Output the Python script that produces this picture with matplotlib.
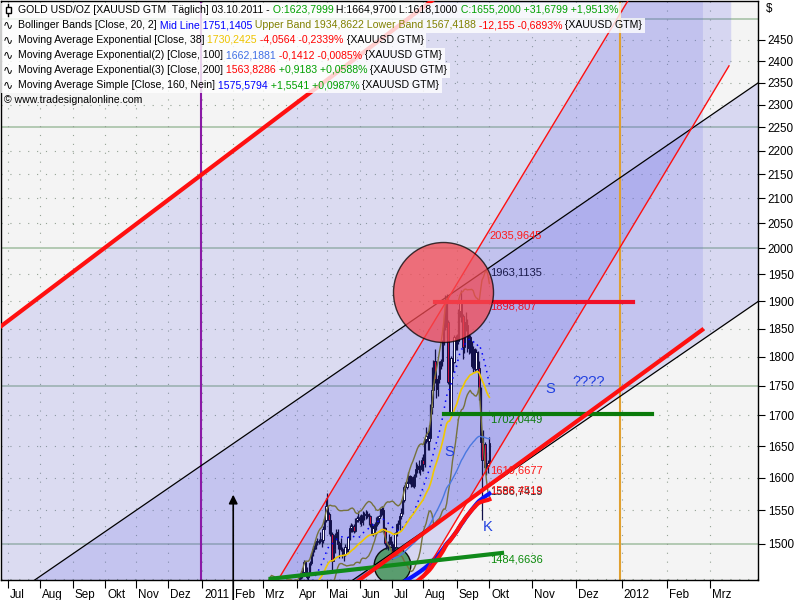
import numpy as np
import pandas as pd
import matplotlib
matplotlib.use('Agg')
import matplotlib.pyplot as plt
from matplotlib.transforms import IdentityTransform, ScaledTranslation
from matplotlib.patches import Polygon, Rectangle
from matplotlib.ticker import FixedLocator, NullLocator, FixedFormatter

plt.rcParams['font.family'] = ['Liberation Sans', 'DejaVu Sans']
FS = 7.6

# ---------------- price data (XAUUSD daily closes, Jul 2010 - Oct 3 2011) ----------------
close_2010_07 = [1207, 1209, 1208, 1195, 1195, 1207, 1210, 1199, 1214, 1208, 1208, 1189, 1181, 1192, 1193, 1193, 1189, 1183, 1160, 1160, 1167, 1181]
close_2010_08 = [1184, 1185, 1194, 1196, 1204, 1200, 1197, 1199, 1213, 1215, 1225, 1226, 1230, 1233, 1227, 1226, 1233, 1240, 1238, 1235, 1238, 1247]
close_2010_09 = [1250, 1248, 1247, 1250, 1255, 1257, 1243, 1246, 1245, 1269, 1268, 1275, 1275, 1279, 1274, 1291, 1293, 1297, 1296, 1309, 1308, 1307]
close_2010_10 = [1319, 1315, 1340, 1349, 1333, 1346, 1353, 1349, 1372, 1381, 1368, 1371, 1335, 1345, 1325, 1327, 1339, 1339, 1325, 1345, 1357]
close_2010_11 = [1351, 1357, 1337, 1383, 1395, 1403, 1393, 1399, 1408, 1367, 1367, 1338, 1353, 1356, 1353, 1359, 1379, 1375, 1373, 1363, 1366, 1386]
close_2010_12 = [1388, 1390, 1406, 1414, 1400, 1383, 1392, 1385, 1400, 1403, 1391, 1375, 1379, 1384, 1388, 1387, 1380, 1380, 1383, 1405, 1414, 1405, 1421]
close_2011_01 = [1422, 1378, 1375, 1372, 1369, 1376, 1384, 1386, 1371, 1360, 1365, 1368, 1369, 1344, 1343, 1343, 1333, 1342, 1318, 1340, 1333]
close_2011_02 = [1340, 1332, 1353, 1348, 1350, 1362, 1365, 1364, 1362, 1360, 1374, 1375, 1385, 1388, 1403, 1397, 1409, 1413, 1404, 1411]
close_2011_03 = [1434, 1437, 1416, 1429, 1434, 1433, 1435, 1411, 1421, 1424, 1395, 1396, 1403, 1418, 1427, 1427, 1437, 1438, 1429, 1418, 1417, 1425, 1439]
close_2011_04 = [1429, 1437, 1454, 1458, 1459, 1474, 1465, 1453, 1457, 1473, 1486, 1492, 1496, 1503, 1504, 1504, 1506, 1506, 1522, 1535, 1556]
close_2011_05 = [1545, 1535, 1515, 1475, 1492, 1513, 1517, 1500, 1502, 1492, 1491, 1486, 1496, 1493, 1510, 1524, 1526, 1526, 1519, 1536, 1538, 1536]
close_2011_06 = [1540, 1533, 1543, 1543, 1545, 1543, 1541, 1530, 1516, 1524, 1530, 1530, 1538, 1541, 1552, 1550, 1523, 1501, 1497, 1501, 1510, 1500]
close_2011_07 = [1486, 1496, 1516, 1529, 1530, 1541, 1546, 1566, 1586, 1585, 1592, 1602, 1601, 1599, 1587, 1602, 1614, 1618, 1614, 1614, 1628]
close_2011_08 = [1622, 1661, 1667, 1658, 1663, 1714, 1742, 1793, 1762, 1744, 1761, 1786, 1792, 1823, 1852, 1895, 1862, 1757, 1705, 1798, 1791, 1835, 1826]
close_2011_09 = [1828, 1881, 1896, 1873, 1817, 1862, 1857, 1815, 1835, 1826, 1783, 1813, 1778, 1808, 1781, 1740, 1656, 1628, 1654, 1617, 1620, 1623.8]
close_2011_10 = [1655.2]

# highs / lows of the visible candles (Apr 1 2011 - Oct 3 2011)
high_bars = [1440, 1439, 1456, 1461, 1465, 1477, 1476, 1467, 1460, 1475, 1487, 1497, 1498, 1505, 1509, 1507, 1518, 1511, 1526, 1537, 1569,
             1577, 1548, 1545, 1518, 1508, 1516, 1522, 1522, 1504, 1509, 1496, 1496, 1500, 1502, 1512, 1528, 1531, 1530, 1530, 1538, 1541, 1549,
             1543, 1544, 1549, 1548, 1550, 1549, 1546, 1543, 1531, 1528, 1532, 1540, 1542, 1543, 1554, 1556, 1555, 1525, 1505, 1504, 1514, 1512,
             1505, 1498, 1518, 1531, 1535, 1544, 1554, 1572, 1588, 1594, 1595, 1609, 1604, 1602, 1602, 1605, 1625, 1622, 1627, 1620, 1632,
             1638, 1663, 1681, 1672, 1684, 1719, 1782, 1795, 1814, 1764, 1768, 1793, 1796, 1830, 1877, 1911, 1913, 1865, 1772, 1801, 1812, 1839, 1838,
             1840, 1885, 1900, 1921, 1876, 1869, 1880, 1868, 1841, 1838, 1828, 1818, 1816, 1813, 1810, 1792, 1748, 1669, 1676, 1657, 1640, 1628,
             1664.97]
low_bars = [1418, 1425, 1432, 1450, 1451, 1456, 1462, 1450, 1448, 1455, 1470, 1483, 1489, 1492, 1499, 1500, 1501, 1496, 1502, 1520, 1533,
            1535, 1515, 1511, 1462, 1478, 1487, 1506, 1492, 1480, 1490, 1479, 1476, 1482, 1489, 1488, 1506, 1517, 1517, 1516, 1518, 1533, 1532,
            1530, 1526, 1528, 1536, 1537, 1538, 1528, 1525, 1513, 1512, 1515, 1521, 1526, 1531, 1538, 1543, 1518, 1498, 1492, 1491, 1498, 1497,
            1478, 1482, 1493, 1512, 1520, 1520, 1537, 1544, 1562, 1578, 1583, 1590, 1590, 1585, 1585, 1584, 1601, 1608, 1608, 1604, 1610,
            1610, 1616, 1655, 1644, 1643, 1667, 1702, 1728, 1755, 1729, 1732, 1755, 1779, 1784, 1821, 1848, 1833, 1752, 1702, 1704, 1774, 1789, 1812,
            1812, 1823, 1871, 1861, 1796, 1807, 1846, 1808, 1804, 1807, 1781, 1773, 1773, 1776, 1770, 1726, 1632, 1535, 1627, 1607, 1604, 1608,
            1618.1]

# drawing-tool anchors: (bar index, price)
chan_upper = [(327, 1963.11), (509.5, 2349.6)]        # black channel, upper line
chan_lower_value = (327, 1586.74)                      # black channel, lower line (parallel)
fan_left = [(183.4, 1448.3), (327, 2035.96)]           # thin red line, left
fan_right = [(327, 1619.67), (489.8, 2389.0)]          # thin red line, right
fan_right_end = 491.3
top_red = [(-5.43, 1852.8), (216.7, 2356.5)]           # thick red line upper left
low_red = [(327, 1588.45), (471.5, 1847.4)]            # thick red support line
low_red_start = 236.0
green_trend = [(183.4, 1451.2), (335.6, 1486.9)]
hline_red = (290.1, 424.6, 1898.807)
hline_green = (296.4, 437.3, 1702.0449)
purple_x, orange_x, arrow_x, arrow_top = 131, 416, 153, 1578
red_circle = (295.5, 1917.0)
green_circle = (260.7, 1469.6)
notes = [(368.2, 1744.3, 'S'), (394.7, 1755.4, '????'), (299.6, 1641.0, 'S'), (325.8, 1525.5, 'K')]
value_labels = [(2035.96, '2035,9645', '#ff1a1a'), (1963.11, '1963,1135', '#1a1a4a'),
                (1898.807, '1898,807', '#e8102a'), (1702.0449, '1702,0449', '#0a7a0a'),
                (1619.67, '1619,6677', '#ff1a1a'), (1586.74, '1586,7419', '#202020'),
                (1588.45, '1588,4519', '#ff1a1a'), (1484.66, '1484,6636', '#0a8a0a')]
y_ticks = list(range(1500, 2451, 50))
months_de = ['Jan', 'Feb', 'Mrz', 'Apr', 'Mai', 'Jun', 'Jul', 'Aug', 'Sep', 'Okt', 'Nov', 'Dez']

closes = np.array(close_2010_07 + close_2010_08 + close_2010_09 + close_2010_10 + close_2010_11 +
                  close_2010_12 + close_2011_01 + close_2011_02 + close_2011_03 + close_2011_04 +
                  close_2011_05 + close_2011_06 + close_2011_07 + close_2011_08 + close_2011_09 +
                  close_2011_10, dtype=float)
past_dates = pd.bdate_range('2010-07-01', '2011-10-03')[:len(closes)]
future_dates = pd.date_range('2011-10-04', '2012-03-31')
all_dates = past_dates.append(future_dates)
N = len(closes)
xs = np.arange(N)

# ---------------- indicators ----------------
def ema(v, n):
    a = 2.0 / (n + 1)
    out = np.empty_like(v)
    out[0] = v[0]
    for i in range(1, len(v)):
        out[i] = out[i - 1] + a * (v[i] - out[i - 1])
    return out

s = pd.Series(closes)
bb_mid = s.rolling(20).mean().values
bb_std = s.rolling(20).std(ddof=0).values
bb_up = bb_mid + 2 * bb_std
bb_lo = bb_mid - 2 * bb_std
ema38 = ema(closes, 38)
ema100 = ema(closes, 100)
ema200 = ema(closes, 200)
sma160 = s.rolling(160).mean().values

# ---------------- figure ----------------
W, H = 800, 600
fig = plt.figure(figsize=(8, 6), dpi=100)
fig.patch.set_facecolor('white')
ax = fig.add_axes([1 / W, 20 / H, 757 / W, 579 / H])
ax.set_facecolor('#f4f4f4')
ax.set_yscale('log')
ax.set_xlim(-4.76, 509.5)
ax.set_ylim(1448.3, 2544.7)
X0, X1 = -20, 530


def line_fn(a, b):
    (x0, p0), (x1, p1) = a, b
    k = np.log(p1 / p0) / (x1 - x0)
    f = lambda x: p0 * np.exp(k * (np.asarray(x, dtype=float) - x0))
    finv = lambda p: x0 + np.log(np.asarray(p, dtype=float) / p0) / k
    return f, finv, k

L1, _, kL = line_fn(*chan_upper)
L2 = lambda x: chan_lower_value[1] * np.exp(kL * (np.asarray(x, dtype=float) - chan_lower_value[0]))
R1, R1inv, _ = line_fn(*fan_left)
R2, R2inv, _ = line_fn(*fan_right)
TR, _, _ = line_fn(*top_red)
BR, _, _ = line_fn(*low_red)
GT, _, _ = line_fn(*green_trend)

# grid
for yv in range(1450, 2551, 50):
    if yv % 250 == 0:
        ax.axhline(yv, color='#a8c2a8', lw=1.2, zorder=0.6)
    else:
        ax.axhline(yv, color='#94a294', lw=0.8, ls=(0, (1, 7)), zorder=0.6)

tick_pos, tick_lab = [], []
prev = None
for i, d in enumerate(all_dates):
    key = (d.year, d.month)
    if key != prev:
        tick_pos.append(i)
        tick_lab.append(str(d.year) if d.month == 1 else months_de[d.month - 1])
        prev = key
for tp in tick_pos:
    ax.axvline(tp, color='#94a294', lw=0.8, ls=(0, (1, 7)), zorder=0.6)

# shaded channels
lav = '#5e5ee6'
xw = np.array([X0, 472.1])
ax.fill_between(xw, BR(xw), TR(xw), color=lav, alpha=0.16, lw=0, zorder=1)
xl = np.array([X0, X1])
ax.fill_between(xl, L2(xl), L1(xl), color=lav, alpha=0.18, lw=0, zorder=1)
plo, phi = 1300.0, 2900.0
rverts = [(R1inv(plo), plo), (R1inv(phi), phi), (fan_right_end, phi),
          (fan_right_end, R2(fan_right_end)), (R2inv(plo), plo)]
ax.add_patch(Polygon(rverts, closed=True, facecolor=lav, alpha=0.2, lw=0, zorder=1))

# vertical markers
ax.axvline(purple_x, color='#8a1aa6', lw=1.5, zorder=1.5)
ax.axvline(orange_x, color='#e0a030', lw=1.5, zorder=1.5)
ax.annotate('', xy=(arrow_x, arrow_top), xytext=(arrow_x, 1400),
            arrowprops=dict(arrowstyle='-|>', color='black', lw=1.2, mutation_scale=13), zorder=2)

# green circle
ax.scatter([green_circle[0]], [green_circle[1]], s=(36.6 * 0.72) ** 2, facecolor='#4f9864',
           edgecolor='black', linewidth=1, alpha=0.92, zorder=2.5)

# candles
nC = len(high_bars)
st = N - nC
cx = xs[st:]
cc = closes[st:]
co = closes[st - 1:-1]
hh = np.array(high_bars, dtype=float)
ll = np.array(low_bars, dtype=float)
up = cc >= co
navy = '#10104a'
ax.vlines(cx, ll, hh, color=navy, lw=0.9, zorder=3)
bot = np.minimum(co, cc)
hgt = np.maximum(np.abs(cc - co), 0.8)
ax.bar(cx[up], hgt[up], bottom=bot[up], width=0.9, color='white', edgecolor=navy, linewidth=0.7, zorder=3.1)
ax.bar(cx[~up], hgt[~up], bottom=bot[~up], width=0.9, color='#c8103c', edgecolor=navy, linewidth=0.7, zorder=3.1)

# indicators
ax.plot(xs, bb_up, color='#76723c', lw=1, zorder=3.5)
ax.plot(xs, bb_lo, color='#76723c', lw=1, zorder=3.5)
ax.plot(xs, bb_mid, color='#0000ff', lw=1.1, ls=(0, (1, 3)), zorder=3.5)
ax.plot(xs, ema38, color='#f0c800', lw=1.2, zorder=3.5)
ax.plot(xs, ema100, color='#4a78e0', lw=1, zorder=3.5)
ax.plot(xs, sma160, color='#0a14ff', lw=3, zorder=3.6)
ax.plot(xs, ema200, color='#ff1010', lw=3, zorder=3.6)

# drawings
xa = np.array([X0, X1])
ax.plot(xa, L1(xa), color='black', lw=0.9, zorder=4)
xb = np.array([low_red_start - 20, X1])
ax.plot(xb, L2(xb), color='black', lw=0.9, zorder=4)
xr1 = np.array([R1inv(plo), R1inv(phi)])
ax.plot(xr1, R1(xr1), color='#ff1010', lw=1, zorder=4)
xr2 = np.array([R2inv(plo), fan_right[1][0]])
ax.plot(xr2, R2(xr2), color='#ff1010', lw=1, zorder=4)
xt = np.array([X0, 320])
ax.plot(xt, TR(xt), color='#ff1010', lw=3, zorder=4)
xbr = np.array([low_red_start, low_red[1][0]])
ax.plot(xbr, BR(xbr), color='#ff1010', lw=3, zorder=4.2)
xg = np.array([green_trend[0][0] - 5, green_trend[1][0]])
ax.plot(xg, GT(xg), color='#108a1a', lw=3, zorder=4)
ax.plot([hline_red[0], hline_red[1]], [hline_red[2]] * 2, color='#f01028', lw=3, zorder=4)
ax.plot([hline_green[0], hline_green[1]], [hline_green[2]] * 2, color='#0a7a0a', lw=3, zorder=4)

# red circle
ax.scatter([red_circle[0]], [red_circle[1]], s=(100 * 0.72) ** 2, facecolor='#f44a52',
           edgecolor='black', linewidth=1, alpha=0.75, zorder=5)

# value labels
for pv, txt, col in value_labels:
    ax.text(N - 1 + 0.3, pv, txt, color=col, fontsize=8.0, ha='left', va='top', zorder=6)
for xn, pn, tn in notes:
    ax.text(xn, pn, tn, color='#2040e0', fontsize=10.5, ha='center', va='center', zorder=6)

# axes / ticks
for sp in ax.spines.values():
    sp.set_color('black')
    sp.set_linewidth(1)
ax.yaxis.tick_right()
ax.yaxis.set_major_locator(FixedLocator(y_ticks))
ax.yaxis.set_major_formatter(FixedFormatter([str(v) for v in y_ticks]))
ax.yaxis.set_minor_locator(NullLocator())
ax.tick_params(axis='y', which='major', direction='out', length=5, pad=2, labelsize=8.4, colors='black')
ax.set_xticks(tick_pos)
ax.set_xticklabels(tick_lab)
ax.tick_params(axis='x', direction='out', length=6, pad=0.5, labelsize=8.4)
for lab in ax.get_xticklabels():
    lab.set_ha('left')
    lab.set_transform(lab.get_transform() + ScaledTranslation(2 / 100, 0, fig.dpi_scale_trans))
fig.text(766 / W, 1 - 9 / H, '$', fontsize=8.4, ha='left', va='center')

# legend (header lines)
ident = IdentityTransform()
rows = [
    [('GOLD USD/OZ [XAUUSD GTM  Täglich] 03.10.2011 -', 'black'), (' O:1623,7999', '#00a000'),
     (' H:1664,9700 L:1618,1000', 'black'), (' C:1655,2000 +31,6799 +1,9513%', '#00a000')],
    [('Bollinger Bands [Close, 20, 2]', 'black'), (' Mid Line 1751,1405', '#0000ff'),
     (' Upper Band 1934,8622 Lower Band 1567,4188', '#808000'), (' -12,155 -0,6893%', '#ff0000'),
     (' {XAUUSD GTM}', 'black')],
    [('Moving Average Exponential [Close, 38]', 'black'), (' 1730,2425', '#eec400'),
     (' -4,0564 -0,2339%', '#ff0000'), (' {XAUUSD GTM}', 'black')],
    [('Moving Average Exponential(2) [Close, 100]', 'black'), (' 1662,1881', '#3f6fe6'),
     (' -0,1412 -0,0085%', '#ff0000'), (' {XAUUSD GTM}', 'black')],
    [('Moving Average Exponential(3) [Close, 200]', 'black'), (' 1563,8286', '#ff0000'),
     (' +0,9183 +0,0588%', '#00a000'), (' {XAUUSD GTM}', 'black')],
    [('Moving Average Simple [Close, 160, Nein]', 'black'), (' 1575,5794', '#0000ff'),
     (' +1,5541 +0,0987%', '#00a000'), (' {XAUUSD GTM}', 'black')],
]
row_y = [10, 25, 40, 55, 70, 85]
last_texts = []
for r, (yc, pieces) in enumerate(zip(row_y, rows)):
    t = ax.text(18, H - yc, pieces[0][0], color=pieces[0][1], fontsize=FS, ha='left', va='center',
                transform=ident, zorder=20, clip_on=False)
    for sp_, col in pieces[1:]:
        t = ax.annotate(sp_, xy=(1, 0), xycoords=t, xytext=(0, 0), textcoords='offset points',
                        va='bottom', ha='left', color=col, fontsize=FS, zorder=20, annotation_clip=False)
    last_texts.append(t)
    if r == 0:
        ax.plot([8, 8], [H - yc - 6, H - yc + 6], color='black', lw=1, transform=ident, zorder=20, clip_on=False)
        ax.add_patch(Rectangle((5.5, H - yc - 3), 5, 6, facecolor='white', edgecolor='black', lw=1,
                               transform=ident, zorder=20.5, clip_on=False))
    else:
        ax.text(3, H - yc, '\u223f', fontsize=FS + 1.2, ha='left', va='center', family=['DejaVu Sans'],
                transform=ident, zorder=20, clip_on=False)
ax.text(4, H - 100, '\u00a9 www.tradesignalonline.com', fontsize=FS, ha='left', va='center',
        transform=ident, zorder=20, clip_on=False)

fig.canvas.draw()
ren = fig.canvas.get_renderer()
for yc, t in zip(row_y, last_texts):
    bb = t.get_window_extent(ren)
    ax.add_patch(Rectangle((1, H - yc - 7.5), bb.x1 + 2, 15, facecolor='white', edgecolor='none', alpha=0.8,
                           transform=ident, zorder=19, clip_on=False))

fig.savefig('out.png', dpi=100)
